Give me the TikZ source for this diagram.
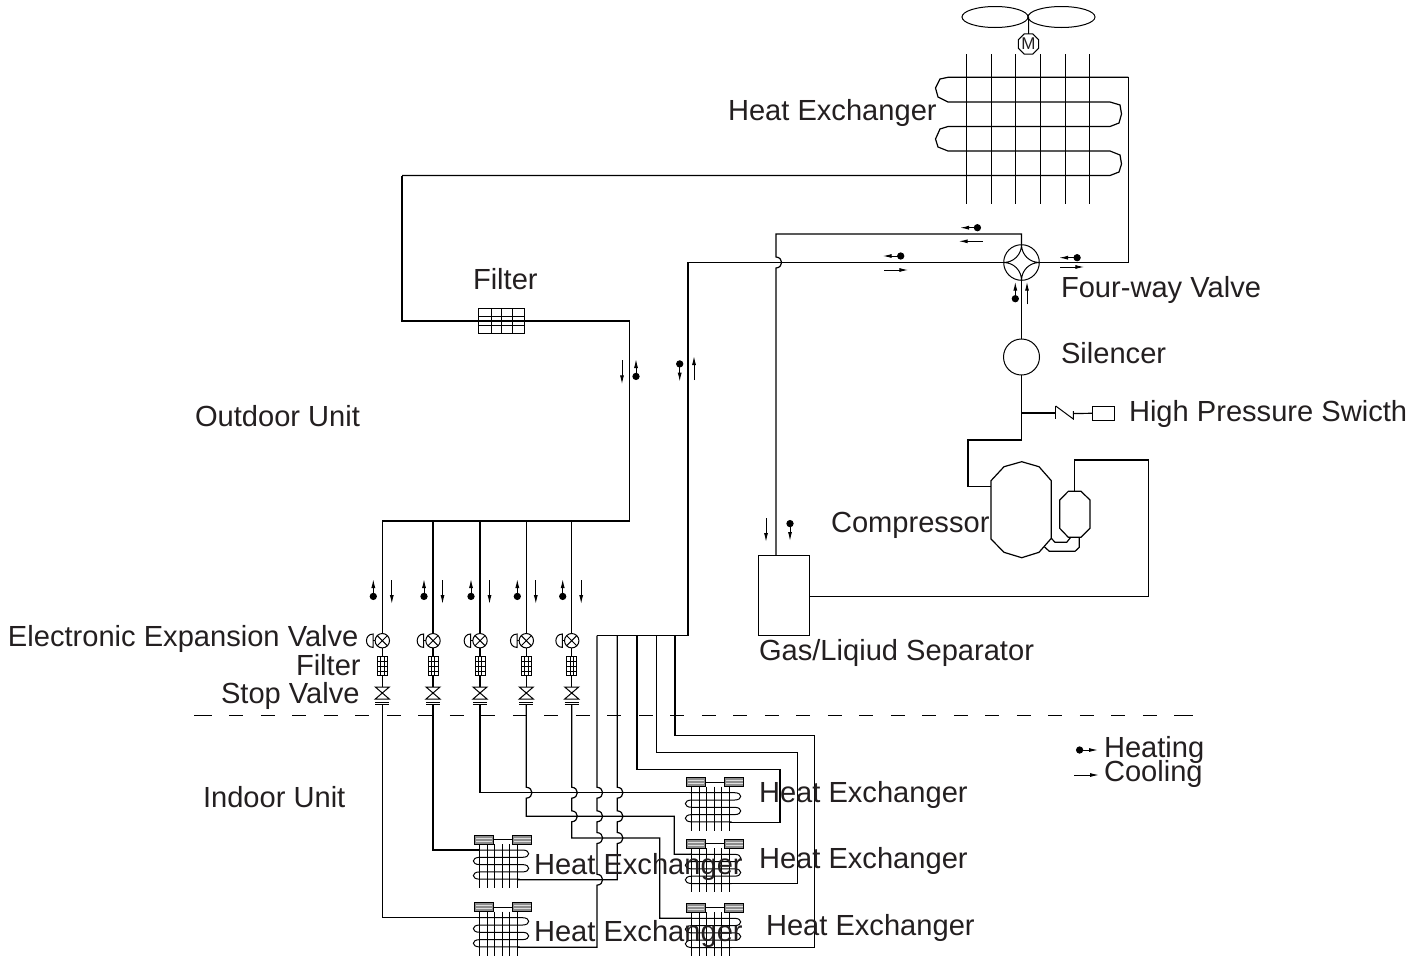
\documentclass[tikz,border=0pt]{standalone}
\usepackage{fontspec}
\setmainfont{Liberation Sans}
\usetikzlibrary{arrows.meta,calc,shapes.geometric}
\definecolor{inktext}{HTML}{231F20}
\tikzset{
  txt/.style={anchor=base west,inner sep=0pt,outer sep=0pt,text=inktext,font=\fontsize{14.55}{16}\selectfont},
  pipe/.style={line width=0.6pt,line join=miter},
  thin pipe/.style={line width=0.5pt},
  round part/.style={circle,draw,inner sep=0pt,outer sep=0pt,line width=0.5pt},
  box part/.style={rectangle,draw,inner sep=0pt,outer sep=0pt,line width=0.6pt},
  heatflow/.style={line width=0.5pt,{Circle[length=3.6pt,width=3.6pt]}-{Latex[length=4.5pt,width=2pt]}},
  coolflow/.style={line width=0.5pt,-{Latex[length=4.5pt,width=2pt]}},
  header/.style={rectangle,draw,fill=gray!90,inner sep=0pt,outer sep=0pt,minimum width=9.5pt,minimum height=4.5pt,line width=0.5pt},
}
% hump of a vertical pipe over a horizontal one
\newcommand{\hump}[2]{-- (#1,#2-5.5) .. controls (#1+7.5,#2-5) and (#1+7.5,#2+5) .. (#1,#2+5.5)}
% small indoor heat exchanger: #1 name, (#2,#3) first fin and top tube
\newcommand{\smallcoil}[3]{
  \node[header] (#1a) at (#2+4.3,#3-10.5) {};
  \node[header] (#1b) at (#2+42.5,#3-10.5) {};
  \draw[line width=0.35pt,gray!25] (#2-4,#3-12) -- (#2+12.6,#3-12) (#2-4,#3-9) -- (#2+12.6,#3-9);
  \draw[line width=0.35pt,gray!25] (#2+34,#3-12) -- (#2+51,#3-12) (#2+34,#3-9) -- (#2+51,#3-9);
  \draw[thin pipe] (#1a) -- (#1b);
  \foreach \k in {0,7.6,15,22.3,30,37.3}
    \draw[thin pipe] (#2+\k,#3-6) -- (#2+\k,#3+38);
  \draw[thin pipe] (#2-2,#3) -- (#2+43,#3) .. controls (#2+51,#3) and (#2+51,#3+7.3) .. (#2+43,#3+7.3)
    -- (#2,#3+7.3) .. controls (#2-8.5,#3+7.3) and (#2-8.5,#3+14.6) .. (#2,#3+14.6)
    -- (#2+43,#3+14.6) .. controls (#2+51,#3+14.6) and (#2+51,#3+21.9) .. (#2+43,#3+21.9)
    -- (#2,#3+21.9) .. controls (#2-8.5,#3+21.9) and (#2-8.5,#3+29.2) .. (#2,#3+29.2) -- (#2+40,#3+29.2);
}
\begin{document}
\begin{tikzpicture}[x=0.5pt,y=-0.5pt,line width=0.6pt]
\useasboundingbox (0,0) rectangle (1428,959);

% fan and motor
\draw[thin pipe] (995,17) ellipse (33 and 10.5);
\draw[thin pipe] (1061.5,17) ellipse (33.5 and 10.5);
\node[regular polygon,regular polygon sides=8,draw,inner sep=0pt,outer sep=0pt,line width=0.5pt,minimum size=11pt,font=\fontsize{8.5}{9}\selectfont,text=inktext] (motor) at (1028.5,44) {M};
\draw[thin pipe] (1028.5,17) -- (motor);

% outdoor heat exchanger
\foreach \x in {966.7,991,1015.7,1040.3,1065,1089.3}
  \draw[thin pipe] (\x,54) -- (\x,203.5);
\coordinate (coilin) at (1128.3,77.3);
\coordinate (coilout) at (402,175.5);
\draw[pipe] (coilin) -- (948,77.3) -- (940,79) -- (935.5,88) -- (938,97) -- (948,102)
  -- (1110,102) -- (1120,105) -- (1121.5,114) -- (1119,123) -- (1110,126.5)
  -- (948,126.5) -- (940,129) -- (935.5,139) -- (938,147) -- (948,151)
  -- (1110,151) -- (1120,155) -- (1121.5,164) -- (1119,172) -- (1110,175.5) -- (coilout);

% four-way valve
\node[round part,minimum size=17.8pt] (fourway) at (1021.5,262.5) {};
\draw[thin pipe] (fourway.north) to[bend right=45] (fourway.east) to[bend right=45] (fourway.south)
  to[bend right=45] (fourway.west) to[bend right=45] (fourway.north);
\draw[pipe] (coilin) |- (fourway.east);

% silencer, switch and compressor
\node[round part,minimum size=18pt] (silencer) at (1021.5,357) {};
\draw[pipe] (fourway.south) -- (silencer.north);
\coordinate (tee) at (1021.5,413);
\coordinate (disch) at (1021.5,440);
\node[box part,minimum width=11.2pt,minimum height=7pt] (switch) at (1103.3,413.3) {};
\draw[pipe] (silencer.south) -- (disch) -- (968,440) -- (968,486.7) -- (991,486.7);
\draw[pipe] (tee) -- (1055.7,413);
\draw[thin pipe] (1055.7,406) -- (1055.7,419) ;
\draw[thin pipe] (1055.7,406) -- (1073.3,419) -- (1073.3,411);
\draw[pipe] (1073.3,413.5) -- (switch.west);
\draw[pipe] (1021.7,461.7) -- (1039,466.7) -- (1051.3,480.7) -- (1051.3,538.3) -- (1039,552.3)
  -- (1021.7,557.7) -- (1004,552.3) -- (991,539) -- (991,480.7) -- (1004,466.7) -- cycle;
\draw[pipe] (1068.3,491.3) -- (1081,491.3) -- (1090,500) -- (1090,528.3) -- (1081,537.3)
  -- (1068.3,537.3) -- (1059.7,528.3) -- (1059.7,500) -- cycle;
\draw[pipe] (1051.3,538.3) -- (1055,542.3) -- (1066.7,542.3) -- (1070.7,537.3);
\draw[pipe] (1044.3,546.7) -- (1049.3,551.3) -- (1075,551.3) -- (1079.3,547.3) -- (1079.3,537.3);

% gas/liquid separator
\node[box part,minimum width=25.3pt,minimum height=40.3pt] (separator) at (784,595.5) {};
\draw[pipe] (1074.3,491.3) -- (1074.3,460) -- (1148.3,460) -- (1148.3,596.7) -- (separator.east |- 0,596.7);
\draw[pipe] (fourway.north) -- (1021.5,234) -- (776,234) \hump{776}{262.5} -- (separator.north -| 776,0);

% main pipe to the indoor side
\coordinate (gasmain) at (688,635.7);
\draw[pipe] (fourway.west) -- (688,262.5) -- (gasmain) -- (597,635.7);

% filter of the outdoor unit
\node[box part,minimum width=23pt,minimum height=12.7pt] (mainfilter) at (501.3,321) {};
\foreach \x in {491.7,501.7,512.7}
  \draw[thin pipe] (\x,308.3) -- (\x,333.7);
\foreach \y in {316.7,325}
  \draw[thin pipe] (478.3,\y) -- (524.3,\y);
\draw[pipe] (coilout) |- (mainfilter.west) (mainfilter.west) -- (mainfilter.east);
\coordinate (liqmain) at (629.7,521);
\draw[pipe] (mainfilter.east) -- (629.7,321) -- (liqmain) -- (382.3,521);

% five branches with valves
\foreach \x/\n in {382.3/a,433/b,480/c,526.3/d,571.7/e}{
  \node[round part,minimum size=7.2pt] (eev\n) at (\x,640.7) {};
  \draw[thin pipe] (eev\n.north west) -- (eev\n.south east) (eev\n.north east) -- (eev\n.south west);
  \draw[thin pipe] (\x-9.3,634) .. controls (\x-18,634) and (\x-18,647.4) .. (\x-9.3,647.4) -- cycle;
  \draw[thin pipe] (\x-9.3,640.7) -- (eev\n.west);
  \node[box part,minimum width=5pt,minimum height=9.5pt,line width=0.5pt] (flt\n) at (\x,666) {};
  \foreach \k in {-1.7,1.7}
    \draw[line width=0.4pt] (\x+\k,656.5) -- (\x+\k,675.5);
  \foreach \k in {661,666,671}
    \draw[line width=0.4pt] (\x-5,\k) -- (\x+5,\k);
  \draw[thin pipe] (\x-7,687) -- (\x+7,687) -- (\x-7,699) -- (\x+7,699) -- cycle;
  \draw[thin pipe] (\x-7,702) -- (\x+7,702) (\x-7,704) -- (\x+7,704);
  \draw[pipe] (\x,521) -- (eev\n.north) (eev\n.south) -- (flt\n.north) (flt\n.south) -- (\x,687);
  \draw[heatflow] (\x-9,600) -- (\x-9,579);
  \draw[coolflow] (\x+9.5,580) -- (\x+9.5,604);
}

% liquid lines of the indoor units
\smallcoil{hxa}{691.7}{792.7}
\smallcoil{hxb}{691.7}{854.3}
\smallcoil{hxc}{691.7}{918.3}
\smallcoil{hxd}{479.7}{850}
\smallcoil{hxe}{479.7}{917.7}
\draw[pipe] (382.3,704) -- (382.3,917.7) -- (479.7,917.7);
\draw[pipe] (433,704) -- (433,850) -- (479.7,850);
\draw[pipe] (480,704) -- (480,792.7) -- (691.7,792.7);
\draw[pipe] (526.3,704) \hump{526.3}{792.7} -- (526.3,816.3) -- (674.3,816.3) -- (674.3,854.3) -- (691.7,854.3);
\draw[pipe] (571.7,704) \hump{571.7}{792.7} \hump{571.7}{816.3} -- (571.7,838) -- (659.7,838) -- (659.7,918.3) -- (691.7,918.3);

% gas lines of the indoor units
\draw[pipe] (597,635.7) \hump{597}{792.7} \hump{597}{816.3} \hump{597}{838} \hump{597}{879.7} -- (597,947.3) -- (518,947.3);
\draw[pipe] (617.3,635.7) \hump{617.3}{792.7} \hump{617.3}{816.3} \hump{617.3}{838} -- (617.3,879.7) -- (518,879.7);
\draw[pipe] (637,635.7) -- (637,769.7) -- (780,769.7) -- (780,822.3) -- (730,822.3);
\draw[pipe] (656.7,635.7) -- (656.7,752.3) -- (797.3,752.3) -- (797.3,883.3) -- (730,883.3);
\draw[pipe] (675,635.7) -- (675,735.3) -- (814.3,735.3) -- (814.3,947.3) -- (730,947.3);

% unit border
\draw[line width=0.5pt,dash pattern=on 6.85pt off 8.9pt] (197.8,715.3) -- (1190,715.3);
\draw[line width=0.5pt] (194,715.3) -- (199,715.3) (1187,715.3) -- (1193,715.3);

% flow arrows
\draw[heatflow] (981,227.7) -- (960,227.7);
\draw[coolflow] (982.7,241.3) -- (958.7,241.3);
\draw[heatflow] (904.3,256) -- (882.7,256);
\draw[coolflow] (884.3,270) -- (908.3,270);
\draw[heatflow] (1080.7,257.7) -- (1059,257.7);
\draw[coolflow] (1060,267) -- (1084.3,267);
\draw[heatflow] (1015.3,302.3) -- (1015.3,281.7);
\draw[coolflow] (1027,304.3) -- (1027,281.7);
\draw[coolflow] (622,360) -- (622,384.3);
\draw[heatflow] (636,380) -- (636,359);
\draw[heatflow] (679.7,360.3) -- (679.7,381.7);
\draw[coolflow] (694,380) -- (694,356);
\draw[coolflow] (766,518) -- (766,542);
\draw[heatflow] (790,520) -- (790,541);

% legend
\draw[heatflow] (1076,750) -- (1098,750);
\draw[coolflow] (1074,775) -- (1099,775);

% labels
\node[txt] (hxmain) at (728,120) {Heat Exchanger};
\node[txt] (fltlabel) at (473,289) {Filter};
\node[txt] (outdoor) at (195,426) {Outdoor Unit};
\node[txt] (fwlabel) at (1061,297) {Four-way Valve};
\node[txt] (sllabel) at (1061,363) {Silencer};
\node[txt] (swlabel) at (1129,421) {High Pressure Swicth};
\node[txt] (seplabel) at (759,660) {Gas/Liqiud Separator};
\node[txt] (cplabel) at (831,532) {Compressor};
\node[txt] (eevlabel) at (8,646) {Electronic Expansion Valve};
\node[txt] (fltlabelb) at (296,675) {Filter};
\node[txt] (stoplabel) at (221,703) {Stop Valve};
\node[txt] (indoor) at (203,807) {Indoor Unit};
\node[txt] (hxalabel) at (759,802) {Heat Exchanger};
\node[txt] (hxblabel) at (759,868) {Heat Exchanger};
\node[txt] (hxclabel) at (766,935) {Heat Exchanger};
\node[txt] (hxdlabel) at (534,874) {Heat Exchanger};
\node[txt] (hxelabel) at (534,941) {Heat Exchanger};
\node[txt] (heatlabel) at (1104,757) {Heating};
\node[txt] (coollabel) at (1104,781) {Cooling};
\end{tikzpicture}
\end{document}
